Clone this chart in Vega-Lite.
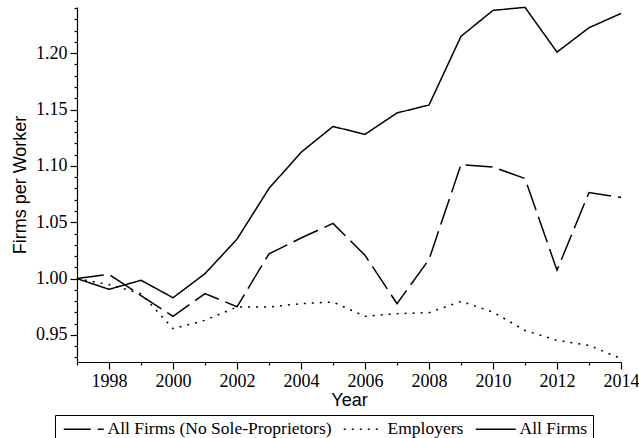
{
  "$schema": "https://vega.github.io/schema/vega-lite/v6.json",
  "autosize": "none",
  "width": 544,
  "height": 355,
  "padding": {"left": 77, "top": 7, "right": 18, "bottom": 76},
  "background": "white",
  "config": {
    "view": {"stroke": null}
  },
  "data": {
    "values": [
      {"year": 1997, "series": "All Firms", "value": 1.000},
      {"year": 1998, "series": "All Firms", "value": 0.9905},
      {"year": 1999, "series": "All Firms", "value": 0.9985},
      {"year": 2000, "series": "All Firms", "value": 0.983},
      {"year": 2001, "series": "All Firms", "value": 1.0044},
      {"year": 2002, "series": "All Firms", "value": 1.035},
      {"year": 2003, "series": "All Firms", "value": 1.080},
      {"year": 2004, "series": "All Firms", "value": 1.112},
      {"year": 2005, "series": "All Firms", "value": 1.135},
      {"year": 2006, "series": "All Firms", "value": 1.128},
      {"year": 2007, "series": "All Firms", "value": 1.147},
      {"year": 2008, "series": "All Firms", "value": 1.154},
      {"year": 2009, "series": "All Firms", "value": 1.215},
      {"year": 2010, "series": "All Firms", "value": 1.238},
      {"year": 2011, "series": "All Firms", "value": 1.2407},
      {"year": 2012, "series": "All Firms", "value": 1.201},
      {"year": 2013, "series": "All Firms", "value": 1.2226},
      {"year": 2014, "series": "All Firms", "value": 1.2353},
      {"year": 1997, "series": "All Firms (No Sole-Proprietors)", "value": 1.000},
      {"year": 1998, "series": "All Firms (No Sole-Proprietors)", "value": 1.0038},
      {"year": 1999, "series": "All Firms (No Sole-Proprietors)", "value": 0.985},
      {"year": 2000, "series": "All Firms (No Sole-Proprietors)", "value": 0.9665},
      {"year": 2001, "series": "All Firms (No Sole-Proprietors)", "value": 0.9867},
      {"year": 2002, "series": "All Firms (No Sole-Proprietors)", "value": 0.975},
      {"year": 2003, "series": "All Firms (No Sole-Proprietors)", "value": 1.022},
      {"year": 2004, "series": "All Firms (No Sole-Proprietors)", "value": 1.036},
      {"year": 2005, "series": "All Firms (No Sole-Proprietors)", "value": 1.049},
      {"year": 2006, "series": "All Firms (No Sole-Proprietors)", "value": 1.0207},
      {"year": 2007, "series": "All Firms (No Sole-Proprietors)", "value": 0.9778},
      {"year": 2008, "series": "All Firms (No Sole-Proprietors)", "value": 1.0169},
      {"year": 2009, "series": "All Firms (No Sole-Proprietors)", "value": 1.1012},
      {"year": 2010, "series": "All Firms (No Sole-Proprietors)", "value": 1.099},
      {"year": 2011, "series": "All Firms (No Sole-Proprietors)", "value": 1.0888},
      {"year": 2012, "series": "All Firms (No Sole-Proprietors)", "value": 1.0074},
      {"year": 2013, "series": "All Firms (No Sole-Proprietors)", "value": 1.0764},
      {"year": 2014, "series": "All Firms (No Sole-Proprietors)", "value": 1.072},
      {"year": 1997, "series": "Employers", "value": 1.000},
      {"year": 1998, "series": "Employers", "value": 0.9947},
      {"year": 1999, "series": "Employers", "value": 0.9867},
      {"year": 2000, "series": "Employers", "value": 0.9556},
      {"year": 2001, "series": "Employers", "value": 0.963},
      {"year": 2002, "series": "Employers", "value": 0.9748},
      {"year": 2003, "series": "Employers", "value": 0.9748},
      {"year": 2004, "series": "Employers", "value": 0.9778},
      {"year": 2005, "series": "Employers", "value": 0.9792},
      {"year": 2006, "series": "Employers", "value": 0.9665},
      {"year": 2007, "series": "Employers", "value": 0.9689},
      {"year": 2008, "series": "Employers", "value": 0.9698},
      {"year": 2009, "series": "Employers", "value": 0.9798},
      {"year": 2010, "series": "Employers", "value": 0.9703},
      {"year": 2011, "series": "Employers", "value": 0.954},
      {"year": 2012, "series": "Employers", "value": 0.9452},
      {"year": 2013, "series": "Employers", "value": 0.9408},
      {"year": 2014, "series": "Employers", "value": 0.929}
    ]
  },
  "mark": {"type": "line", "color": "black", "strokeWidth": 1.5},
  "encoding": {
    "x": {
      "field": "year",
      "type": "quantitative",
      "title": "Year",
      "scale": {"domain": [1997, 2014], "nice": false, "zero": false},
      "axis": {
        "grid": false,
        "domainColor": "black",
        "domainWidth": 1.2,
        "tickColor": "black",
        "tickWidth": 1.2,
        "labelColor": "black",
        "labelFont": "Liberation Serif, Times New Roman, serif",
        "labelFontSize": 18,
        "titleColor": "black",
        "titleFont": "Liberation Sans, Arial, sans-serif",
        "titleFontSize": 18,
        "titleFontWeight": "normal",
        "values": [1997, 1998, 1999, 2000, 2001, 2002, 2003, 2004, 2005, 2006, 2007, 2008, 2009, 2010, 2011, 2012, 2013, 2014],
        "tickSize": {"condition": {"test": "datum.value % 2 == 0", "value": 7}, "value": 3},
        "labelExpr": "datum.value % 2 == 0 ? format(datum.value, 'd') : ''",
        "labelPadding": 3,
        "labelOverlap": false,
        "labelFlush": false,
        "titlePadding": 1
      }
    },
    "y": {
      "field": "value",
      "type": "quantitative",
      "title": "Firms per Worker",
      "scale": {"domain": [0.926, 1.241], "nice": false, "zero": false},
      "axis": {
        "grid": false,
        "domainColor": "black",
        "domainWidth": 1.2,
        "tickColor": "black",
        "tickWidth": 1.2,
        "labelColor": "black",
        "labelFont": "Liberation Serif, Times New Roman, serif",
        "labelFontSize": 18,
        "titleColor": "black",
        "titleFont": "Liberation Sans, Arial, sans-serif",
        "titleFontSize": 18,
        "titleFontWeight": "normal",
        "values": [0.93, 0.94, 0.95, 0.96, 0.97, 0.98, 0.99, 1.0, 1.01, 1.02, 1.03, 1.04, 1.05, 1.06, 1.07, 1.08, 1.09, 1.1, 1.11, 1.12, 1.13, 1.14, 1.15, 1.16, 1.17, 1.18, 1.19, 1.2, 1.21, 1.22, 1.23, 1.24],
        "tickSize": {"condition": {"test": "abs(datum.value * 20 - round(datum.value * 20)) < 0.001", "value": 7}, "value": 3},
        "labelExpr": "abs(datum.value * 20 - round(datum.value * 20)) < 0.001 ? format(datum.value, '.2f') : ''",
        "labelPadding": 3,
        "labelOverlap": false,
        "labelFlush": false,
        "titlePadding": 6
      }
    },
    "strokeDash": {
      "field": "series",
      "type": "nominal",
      "scale": {
        "domain": ["All Firms (No Sole-Proprietors)", "Employers", "All Firms"],
        "range": [[27, 7], [2, 6], [1, 0]]
      },
      "legend": {
        "title": null,
        "orient": "none",
        "legendX": -22,
        "legendY": 408,
        "direction": "horizontal",
        "strokeColor": "black",
        "fillColor": "white",
        "padding": 5,
        "symbolType": "M-1,0H7",
        "symbolSize": 100,
        "symbolStrokeWidth": 1.5,
        "symbolStrokeColor": "black",
        "labelFont": "Liberation Serif, Times New Roman, serif",
        "labelFontSize": 17.5,
        "labelColor": "black",
        "labelOffset": 30,
        "columnPadding": 8,
        "labelLimit": 400
      }
    }
  }
}
